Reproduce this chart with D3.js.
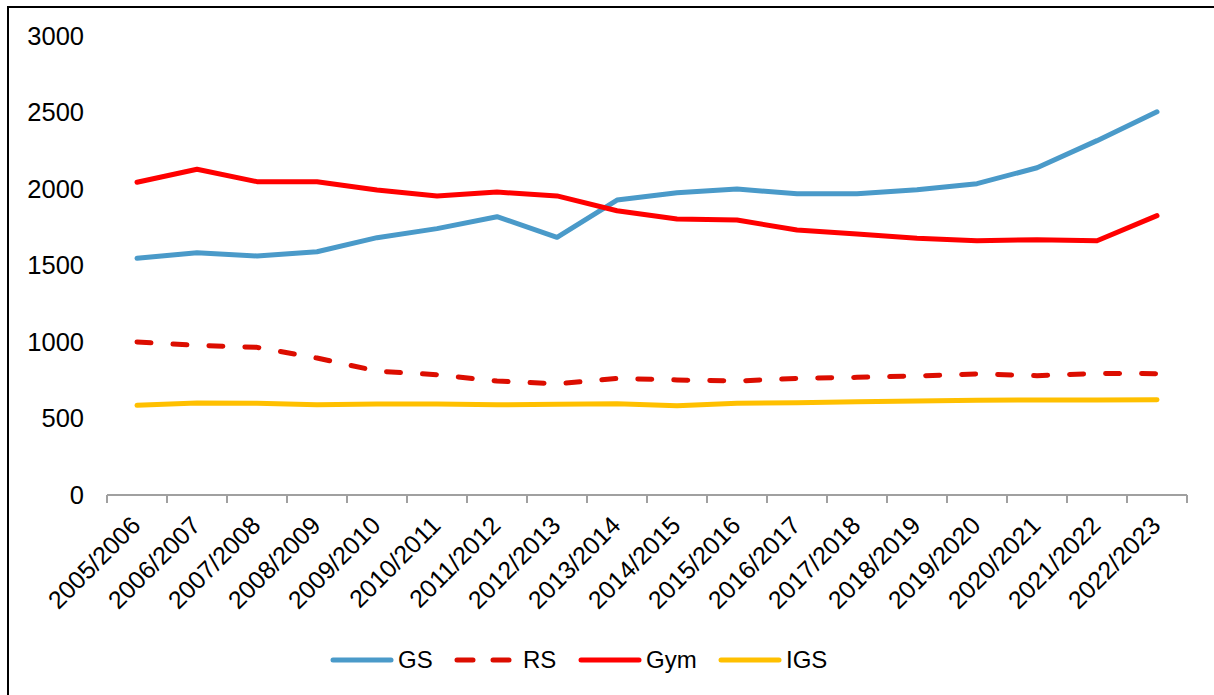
<html>
<head>
    <script src="https://d3js.org/d3.v7.min.js"></script>
    <style>
        body { margin: 0; background: #fff; }
        text { font-family: "Liberation Sans", Arial, sans-serif; fill: #000; }
    </style>
</head>
<body>
    <svg id="svg" width="1214" height="695"></svg>

    <script>
        // **** Data ****
        const years = ['2005/2006', '2006/2007', '2007/2008', '2008/2009', '2009/2010', '2010/2011',
            '2011/2012', '2012/2013', '2013/2014', '2014/2015', '2015/2016', '2016/2017',
            '2017/2018', '2018/2019', '2019/2020', '2020/2021', '2021/2022', '2022/2023']
        const gs = [1547, 1584, 1562, 1590, 1682, 1741, 1819, 1684, 1928, 1976, 2000, 1969, 1969, 1995, 2035, 2139, 2316, 2505]
        const rs = [1000, 978, 965, 895, 810, 786, 745, 727, 762, 752, 745, 762, 769, 778, 791, 780, 795, 793]
        const gym = [2044, 2129, 2048, 2048, 1993, 1954, 1980, 1955, 1858, 1804, 1797, 1732, 1706, 1678, 1662, 1669, 1662, 1826]
        const igs = [586, 602, 599, 590, 595, 594, 590, 593, 597, 584, 599, 603, 610, 614, 619, 621, 621, 623]
        const yTicks = [0, 500, 1000, 1500, 2000, 2500, 3000]

        const series = [
            { name: 'GS', values: gs, color: '#4a9ac9', dash: null },
            { name: 'RS', values: rs, color: '#dc0d00', dash: '14,22' },
            { name: 'Gym', values: gym, color: '#ff0000', dash: null },
            { name: 'IGS', values: igs, color: '#ffc000', dash: null }
        ]

        const svg = d3.select('#svg')

        // outer frame
        svg.append('rect')
            .attr('x', 8).attr('y', 7)
            .attr('width', 1220).attr('height', 700)
            .attr('fill', 'none')
            .attr('stroke', '#000')
            .attr('stroke-width', 2)

        const x = d3.scaleBand().domain(years).range([107, 1187])
        const y = d3.scaleLinear().domain([0, 3000]).range([495, 36])

        // y labels (no axis line)
        svg.selectAll('.ylab')
            .data(yTicks)
            .enter()
            .append('text')
            .attr('class', 'ylab')
            .attr('x', 84)
            .attr('y', d => y(d))
            .attr('dy', '0.35em')
            .attr('text-anchor', 'end')
            .style('font-size', '25.5px')
            .text(d => d)

        // x axis line + ticks
        const xAxis = svg.append('g').attr('transform', 'translate(0,' + y(0) + ')')
        xAxis.append('line')
            .attr('x1', 107).attr('x2', 1187)
            .attr('stroke', '#a0a0a0').attr('stroke-width', 2)
        const tickPos = years.map(d => x(d)).concat([x(years[years.length - 1]) + x.bandwidth()])
        xAxis.selectAll('.tick')
            .data(tickPos)
            .enter()
            .append('line')
            .attr('x1', d => d).attr('x2', d => d)
            .attr('y1', 0).attr('y2', 8)
            .attr('stroke', '#a0a0a0').attr('stroke-width', 2)

        // x labels rotated
        svg.selectAll('.xlab')
            .data(years)
            .enter()
            .append('text')
            .attr('class', 'xlab')
            .attr('text-anchor', 'end')
            .attr('transform', d => 'translate(' + (x(d) + x.bandwidth() / 2 + 5) + ',527) rotate(-45)')
            .style('font-size', '25px')
            .text(d => d)

        // lines
        const line = d3.line()
            .x((d, i) => x(years[i]) + x.bandwidth() / 2)
            .y(d => y(d))

        series.forEach(s => {
            svg.append('path')
                .datum(s.values)
                .attr('d', line)
                .attr('fill', 'none')
                .attr('stroke', s.color)
                .attr('stroke-width', 5)
                .attr('stroke-linecap', 'round')
                .attr('stroke-linejoin', 'round')
                .attr('stroke-dasharray', s.dash)
        })

        // legend
        const legendX = [331, 455, 579, 719]
        const legend = svg.selectAll('.leg')
            .data(series)
            .enter()
            .append('g')
            .attr('class', 'leg')
            .attr('transform', (d, i) => 'translate(' + legendX[i] + ',660)')
        legend.append('line')
            .attr('x1', 2)
            .attr('x2', d => d.dash ? 54 : 60)
            .attr('stroke', d => d.color)
            .attr('stroke-width', 5)
            .attr('stroke-linecap', 'round')
            .attr('stroke-dasharray', d => d.dash ? '16,20' : null)
        legend.append('text')
            .attr('x', d => d.dash ? 68 : 67)
            .attr('dy', '0.35em')
            .style('font-size', '24px')
            .text(d => d.name)
    </script>
</body>
</html>
